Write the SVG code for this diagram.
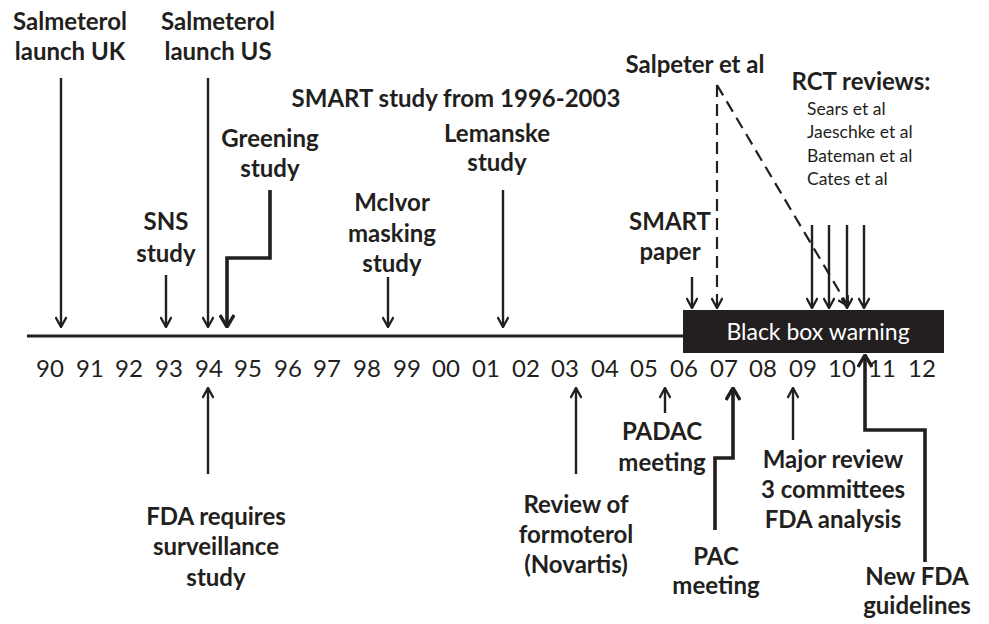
<svg xmlns="http://www.w3.org/2000/svg" width="989" height="624" viewBox="0 0 989 624">
<defs>
<style>
.b{font-family:Lato,"Liberation Sans",sans-serif;font-weight:bold;font-size:24px;fill:#231f20;text-anchor:middle}
.r{font-family:Lato,"Liberation Sans",sans-serif;font-size:17.5px;fill:#231f20}
.y{font-family:Lato,"Liberation Sans",sans-serif;font-size:24px;fill:#231f20;text-anchor:middle}
.w{font-family:Lato,"Liberation Sans",sans-serif;font-size:23px;fill:#fff;text-anchor:middle}
.t{stroke:#231f20;stroke-width:2.4;fill:none;marker-end:url(#a)}
.k{stroke:#231f20;stroke-width:3.6;fill:none;marker-end:url(#ak)}
.d{stroke:#231f20;stroke-width:2.2;fill:none;stroke-dasharray:12,7;marker-end:url(#a)}
</style>
<marker id="a" viewBox="0 0 12 12" refX="11" refY="6" markerWidth="12" markerHeight="12" markerUnits="userSpaceOnUse" orient="auto">
<path d="M1,0.5 L11,6 L1,11.5" fill="none" stroke="#231f20" stroke-width="2.3"/>
</marker>
<marker id="ak" viewBox="0 0 14 16" refX="13" refY="8" markerWidth="14" markerHeight="16" markerUnits="userSpaceOnUse" orient="auto">
<path d="M1,1 L13,8 L1,15" fill="none" stroke="#231f20" stroke-width="3.4"/>
</marker>
</defs>

<g id="timeline">
<line x1="27" y1="336" x2="684" y2="336" stroke="#231f20" stroke-width="3.2"/>
</g>

<g id="black-box">
<rect x="683" y="310" width="261" height="43" fill="#231f20"/>
<text class="w" x="818" y="340">Black box warning</text>
</g>

<g id="years">
<text class="y" x="50" y="377">90</text>
<text class="y" x="90" y="377">91</text>
<text class="y" x="129" y="377">92</text>
<text class="y" x="169" y="377">93</text>
<text class="y" x="209" y="377">94</text>
<text class="y" x="248" y="377">95</text>
<text class="y" x="288" y="377">96</text>
<text class="y" x="327" y="377">97</text>
<text class="y" x="367" y="377">98</text>
<text class="y" x="407" y="377">99</text>
<text class="y" x="446" y="377">00</text>
<text class="y" x="486" y="377">01</text>
<text class="y" x="526" y="377">02</text>
<text class="y" x="565" y="377">03</text>
<text class="y" x="605" y="377">04</text>
<text class="y" x="644" y="377">05</text>
<text class="y" x="684" y="377">06</text>
<text class="y" x="724" y="377">07</text>
<text class="y" x="763" y="377">08</text>
<text class="y" x="803" y="377">09</text>
<text class="y" x="842" y="377">10</text>
<text class="y" x="882" y="377">11</text>
<text class="y" x="922" y="377">12</text>
</g>

<g id="salmeterol-uk"><text class="b" x="70" y="30">Salmeterol</text><text class="b" x="70" y="60">launch UK</text></g>
<g id="salmeterol-us"><text class="b" x="218" y="30">Salmeterol</text><text class="b" x="218" y="60">launch US</text></g>
<g id="sns"><text class="b" x="166" y="230">SNS</text><text class="b" x="166" y="262">study</text></g>
<g id="greening"><text class="b" x="270" y="147">Greening</text><text class="b" x="270" y="177">study</text></g>
<g id="smart-study"><text class="b" x="456" y="107">SMART study from 1996-2003</text></g>
<g id="mcivor"><text class="b" x="392" y="211">McIvor</text><text class="b" x="392" y="242">masking</text><text class="b" x="392" y="272">study</text></g>
<g id="lemanske"><text class="b" x="497" y="142">Lemanske</text><text class="b" x="497" y="171">study</text></g>
<g id="smart-paper"><text class="b" x="670" y="230">SMART</text><text class="b" x="670" y="260">paper</text></g>
<g id="salpeter"><text class="b" x="695" y="73">Salpeter et al</text></g>
<g id="rct"><text class="b" x="861" y="90">RCT reviews:</text>
<text class="r" x="807" y="115">Sears et al</text>
<text class="r" x="807" y="138">Jaeschke et al</text>
<text class="r" x="807" y="162">Bateman et al</text>
<text class="r" x="807" y="185">Cates et al</text></g>
<g id="fda-surveillance"><text class="b" x="216" y="525">FDA requires</text><text class="b" x="216" y="555">surveillance</text><text class="b" x="216" y="586">study</text></g>
<g id="formoterol"><text class="b" x="576" y="513">Review of</text><text class="b" x="576" y="543">formoterol</text><text class="b" x="576" y="573">(Novartis)</text></g>
<g id="padac"><text class="b" x="662" y="440">PADAC</text><text class="b" x="662" y="471">meeting</text></g>
<g id="pac"><text class="b" x="716" y="565">PAC</text><text class="b" x="716" y="594">meeting</text></g>
<g id="major-review"><text class="b" x="833" y="468">Major review</text><text class="b" x="833" y="498">3 committees</text><text class="b" x="833" y="528">FDA analysis</text></g>
<g id="new-fda"><text class="b" x="917" y="585">New FDA</text><text class="b" x="917" y="614">guidelines</text></g>

<g id="connectors">
<line class="t" x1="61" y1="78" x2="61" y2="327"/>
<line class="t" x1="208" y1="78" x2="208" y2="327"/>
<line class="t" x1="166" y1="275" x2="166" y2="327"/>
<path class="k" d="M270,190 V258 H227 V327"/>
<line class="t" x1="388" y1="277" x2="388" y2="327"/>
<line class="t" x1="503" y1="190" x2="503" y2="327"/>
<line class="t" x1="692" y1="277" x2="692" y2="308"/>
<line class="d" x1="717" y1="85" x2="717" y2="308"/>
<line class="d" x1="717" y1="85" x2="848" y2="306"/>
<line class="t" x1="812" y1="225" x2="812" y2="308"/>
<line class="t" x1="829" y1="225" x2="829" y2="308"/>
<line class="t" x1="847" y1="225" x2="847" y2="308"/>
<line class="t" x1="864" y1="225" x2="864" y2="308"/>
<line class="t" x1="208" y1="474" x2="208" y2="388"/>
<line class="t" x1="576" y1="474" x2="576" y2="388"/>
<line class="t" x1="665" y1="413" x2="665" y2="388"/>
<line class="t" x1="793" y1="440" x2="793" y2="388"/>
<path class="k" d="M715,530 V458 H733 V388"/>
<path class="k" d="M925,562 V430 H865 V355"/>
</g>
</svg>
